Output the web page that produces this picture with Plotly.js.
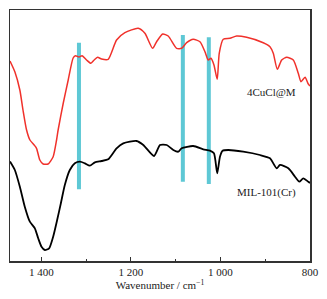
<!DOCTYPE html>
<html>
<head>
<meta charset="utf-8">
<script src="https://cdn.plot.ly/plotly-3.0.1.min.js"></script>
<style>html,body{margin:0;padding:0;background:#fff}#chart{width:327px;height:299px}</style>
</head>
<body>
<div id="chart"></div>
<script>
// Wavenumbers (cm^-1) and relative transmittance (arbitrary units)
var redWn = [1470,1459,1448,1441,1433,1425.5,1416,1410.7,1403.4,1396,1385,1373.6,1366,1362.5,1351,1340,1329,1323.6,1316,1309,1299,1289.4,1282,1274.4,1265.5,1250.7,1232,1213.4,1183.7,1168.7,1151.5,1142.6,1129,1116.7,1097.9,1086.7,1075.5,1060.8,1045.8,1034.6,1027.3,1021.2,1014.5,1007.2,1002.7,993.7,978.8,963.8,941.5,904.4,889.4,882,873,863.2,852,837.3,826.2,820.1,811.1,803.8,800];
var redT  = [200,189,171,151,131,121,116,112.7,101,97,97,104.3,121,131,158,181,203,205.3,204,205.3,201,197.7,201,203.7,202,201.7,221,228.3,232.7,227.7,212.7,219.3,227,225,212.7,212.7,218.3,221.7,219.3,209.3,201,202.7,196,181.7,207.7,221.7,222.7,225,223.7,218.3,214.3,207.7,191.7,201,203.7,201,187.7,179.3,183.7,177,175];

var blackWn = [1470,1459.2,1448,1437,1425.7,1414.5,1407,1399.6,1392.2,1382.6,1373.6,1364.7,1356.4,1347.6,1336.4,1325.2,1314,1302.9,1291.7,1280.5,1265.5,1250.7,1232,1217.1,1187.3,1172.3,1148.4,1135,1120,1105.3,1094,1086.7,1060.8,1038.4,1023.5,1014.5,1007.2,1001.1,995.2,982.6,949.1,911.8,889.4,874.4,867,848.4,833.5,823.9,815,803.8,800];
var blackT  = [99.5,91,74.3,54.3,39.3,32.7,22.7,14.3,11,12.7,24.3,41,57.7,76,91,97.7,99.3,97.7,95.3,98.7,100,101.7,112.7,117.7,120,116,105,116,116,111,109.3,112.7,115,111.7,110.3,107.7,87.7,104.3,110.3,111,109.3,106,102.7,92.7,96,92.7,84.3,79.3,82.7,79.3,78];

// Marker bands
var bandWn = [1316,1084,1026];
var bandTop = [218.3,226,223.7];
var bandBottom = [71.7,79.3,77];

var seriesNames = ['4CuCl@M','MIL-101(Cr)'];
var labelWn = [826,826];
var labelT = [169,68.7];

var tickVals = [1400,1200,1000,800];
var tickText = ['1 400','1 200','1 000','800'];
var minorVals = [1300,1100,900];

var traces = [];
for (var i=0;i<bandWn.length;i++){
  traces.push({x:[bandWn[i],bandWn[i]], y:[bandBottom[i],bandTop[i]], mode:'lines',
    line:{color:'#5EC8D5', width:4}, showlegend:false, hoverinfo:'skip'});
}
traces.push({x:redWn, y:redT, mode:'lines', line:{color:'#F0312B', width:1.5, shape:'spline', smoothing:0.6}, showlegend:false, name:seriesNames[0]});
traces.push({x:blackWn, y:blackT, mode:'lines', line:{color:'#000000', width:1.8, shape:'spline', smoothing:0.6}, showlegend:false, name:seriesNames[1]});

var font = {family:'"Liberation Serif","Times New Roman",serif', size:11, color:'#222'};

var layout = {
  width:327, height:299,
  margin:{l:10, r:17, t:10, b:38},
  paper_bgcolor:'#fff', plot_bgcolor:'#fff',
  font: font,
  xaxis:{range:[1470,800], tickmode:'array', tickvals:tickVals, ticktext:tickText,
    ticks:'inside', ticklen:4, tickwidth:1, tickcolor:'#333',
    minor:{tickmode:'array', tickvals:minorVals, ticks:'inside', ticklen:2.5, tickcolor:'#333', tickwidth:1},
    showline:true, linecolor:'#333', linewidth:1.5, mirror:true, showgrid:false, zeroline:false,
    tickfont:font,
    title:{text:'Wavenumber / cm<sup>−1</sup>', font:font, standoff:0}},
  yaxis:{range:[0,251], showticklabels:false, ticks:'', showline:true, linecolor:'#333', linewidth:1.5, mirror:true, showgrid:false, zeroline:false},
  annotations:[
    {x:labelWn[0], y:labelT[0], text:seriesNames[0], showarrow:false, xanchor:'right', yanchor:'middle', font:font},
    {x:labelWn[1], y:labelT[1], text:seriesNames[1], showarrow:false, xanchor:'right', yanchor:'middle', font:font}
  ]
};
Plotly.newPlot('chart', traces, layout, {displayModeBar:false, staticPlot:true});
</script>
</body>
</html>
